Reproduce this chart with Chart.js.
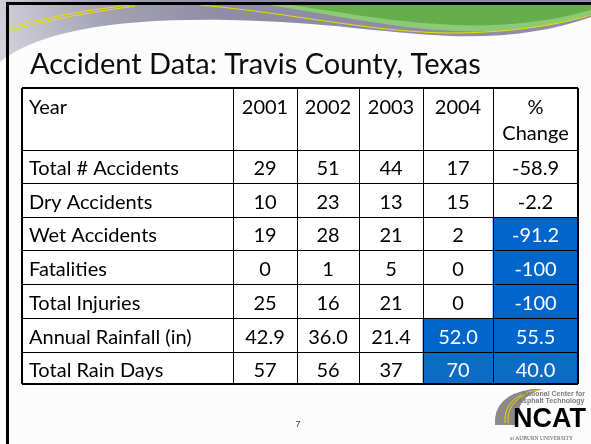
<!DOCTYPE html>
<html>
<head>
<title>Accident Data: Travis County, Texas</title>
<script src="https://cdn.jsdelivr.net/npm/chart.js@4.4.1/dist/chart.umd.min.js"></script>
<style>
body{
	margin: 0;
	background-color: white;
}
</style>
</head>
<body>

<canvas id="accidents" width="591" height="444"></canvas>

<script type="text/javascript">

var title = 'Accident Data: Travis County, Texas';
var corner = 'Year';
var years = ['2001', '2002', '2003', '2004'];
var changeLabel = '%\nChange';
var rowNames = ['Total # Accidents', 'Dry Accidents', 'Wet Accidents', 'Fatalities',
                'Total Injuries', 'Annual Rainfall (in)', 'Total Rain Days'];
var y2001 = [29, 10, 19, 0, 25, 42.9, 57];
var y2002 = [51, 23, 28, 1, 16, 36.0, 56];
var y2003 = [44, 13, 21, 5, 21, 21.4, 37];
var y2004 = [17, 15, 2, 0, 0, 52.0, 70];
var pctChange = [-58.9, -2.2, -91.2, -100, -100, 55.5, 40.0];
// [row, column] of the cells shaded blue (row 0 = header, column 0 = names)
var shaded = [[3, 5], [4, 5], [5, 5], [6, 4], [6, 5], [7, 4], [7, 5]];

// table grid, in table units (1 unit = 1 px)
var colEdges = [0, 211, 275, 337, 401, 471, 556];
var rowEdges = [0, 62, 95, 129, 162, 196, 230, 264, 296];

function fmt(v, r){
	if (r === 5) return v.toFixed(1);          // rainfall
	return String(v);
}
function fmtPct(v){
	return Math.abs(v) >= 100 ? String(v) : v.toFixed(1);
}
function isShaded(r, c){
	return shaded.some(function(s){ return s[0] === r && s[1] === c; });
}

// text of every cell, row by row
var cellText = [[corner].concat(years, [changeLabel])];
rowNames.forEach(function(name, i){
	cellText.push([name, fmt(y2001[i], i), fmt(y2002[i], i), fmt(y2003[i], i),
	               fmt(y2004[i], i), fmtPct(pctChange[i])]);
});

var datasets = cellText.map(function(texts, r){
	var mid = (rowEdges[r] + rowEdges[r + 1]) / 2;
	return {
		texts: texts,
		stack: 'cells',
		barThickness: rowEdges[r + 1] - rowEdges[r],
		borderWidth: 0,
		backgroundColor: texts.map(function(t, c){
			if (!isShaded(r, c)) return '#ffffff';
			return r === 7 ? '#0a6cc2' : '#0066cc';
		}),
		data: texts.map(function(t, c){
			return { x: [colEdges[c], colEdges[c + 1]], y: mid };
		})
	};
});

var slideBack = {
	id: 'slideBack',
	beforeDraw: function(chart){
		var ctx = chart.ctx;
		ctx.save();
		ctx.fillStyle = '#fcfcfc';
		ctx.fillRect(0, 0, 591, 444);

		// grey band across the top
		var g = ctx.createLinearGradient(0, 60, 220, 0);
		g.addColorStop(0, '#d4d4dc');
		g.addColorStop(0.5, '#a3a2b4');
		g.addColorStop(1, '#8f8ca4');
		ctx.fillStyle = g;
		ctx.beginPath();
		ctx.moveTo(0, 0);
		ctx.lineTo(591, 0);
		ctx.lineTo(591, 17);
		ctx.bezierCurveTo(550, 32, 500, 38, 450, 36);
		ctx.bezierCurveTo(380, 33, 330, 22, 230, 20);
		ctx.bezierCurveTo(120, 18, 40, 30, 0, 62);
		ctx.closePath();
		ctx.fill();

		// green wave
		ctx.fillStyle = '#8ccb76';
		ctx.beginPath();
		ctx.moveTo(262, 4);
		ctx.lineTo(591, 4);
		ctx.lineTo(591, 14);
		ctx.bezierCurveTo(550, 28, 500, 33, 455, 31);
		ctx.bezierCurveTo(390, 28, 330, 14, 262, 4);
		ctx.closePath();
		ctx.fill();
		ctx.fillStyle = '#66ad4c';
		ctx.beginPath();
		ctx.moveTo(285, 4);
		ctx.lineTo(591, 4);
		ctx.lineTo(591, 10);
		ctx.bezierCurveTo(550, 22, 500, 27, 455, 25);
		ctx.bezierCurveTo(390, 22, 340, 12, 285, 4);
		ctx.closePath();
		ctx.fill();

		// yellow lines
		ctx.strokeStyle = '#e8e000';
		ctx.lineWidth = 1;
		ctx.beginPath();
		ctx.moveTo(8, 28);
		ctx.quadraticCurveTo(60, 13, 130, 5);
		ctx.moveTo(8, 31);
		ctx.quadraticCurveTo(60, 16, 135, 6);
		ctx.stroke();
		ctx.beginPath();
		ctx.moveTo(200, 5);
		ctx.bezierCurveTo(300, 14, 380, 34, 460, 33);
		ctx.bezierCurveTo(510, 32, 555, 26, 591, 15);
		ctx.stroke();

		// slide frame
		ctx.fillStyle = '#000000';
		ctx.fillRect(6, 2, 585, 3);
		ctx.fillRect(6, 2, 3, 442);

		// title
		ctx.fillStyle = '#0d0d0d';
		ctx.font = '29px Lato';
		ctx.textAlign = 'left';
		ctx.textBaseline = 'alphabetic';
		ctx.fillText(title, 30, 74);

		// page number
		ctx.fillStyle = '#333333';
		ctx.font = '9px "Liberation Sans"';
		ctx.textAlign = 'center';
		ctx.fillText('7', 298, 427);

		// NCAT logo
		ctx.fillStyle = '#8a8a8a';
		ctx.beginPath();
		ctx.moveTo(495, 425);
		ctx.quadraticCurveTo(493, 395, 532, 389);
		ctx.lineTo(542, 389);
		ctx.quadraticCurveTo(514, 398, 518, 425);
		ctx.closePath();
		ctx.fill();
		ctx.strokeStyle = '#f0d000';
		ctx.lineWidth = 1;
		ctx.beginPath();
		ctx.moveTo(505, 423);
		ctx.quadraticCurveTo(503, 397, 536, 390);
		ctx.moveTo(508, 423);
		ctx.quadraticCurveTo(506, 398, 538, 390);
		ctx.stroke();
		ctx.fillStyle = '#7a7a7a';
		ctx.font = 'bold 7px "Liberation Sans"';
		ctx.textAlign = 'left';
		ctx.fillText('National Center for', 522, 396);
		ctx.fillText('Asphalt Technology', 518, 403);
		ctx.fillStyle = '#000000';
		ctx.font = 'bold 27px "Liberation Sans"';
		ctx.fillText('NCAT', 513, 427);
		ctx.fillStyle = '#555555';
		ctx.font = '5.5px "Liberation Serif"';
		ctx.fillText('at AUBURN UNIVERSITY', 510, 440);
		ctx.restore();
	}
};

var cellLabels = {
	id: 'cellLabels',
	afterDatasetsDraw: function(chart){
		var ctx = chart.ctx;
		ctx.save();
		ctx.font = '20px Lato';
		ctx.textBaseline = 'alphabetic';
		chart.data.datasets.forEach(function(ds, r){
			chart.getDatasetMeta(r).data.forEach(function(bar, c){
				var p = bar.getProps(['x', 'y', 'base', 'height'], true);
				var left = Math.min(p.x, p.base), right = Math.max(p.x, p.base);
				var top = p.y - p.height / 2;
				var x;
				if (c === 0) { ctx.textAlign = 'left'; x = left + 6; }
				else { ctx.textAlign = 'center'; x = (left + right) / 2; }
				ctx.fillStyle = isShaded(r, c) ? '#ffffff' : '#000000';
				var lines = ds.texts[c].split('\n');
				if (r === 0) {
					lines.forEach(function(t, i){ ctx.fillText(t, x, top + 26 + i * 26); });
				} else {
					ctx.fillText(lines[0], x, p.y + 8.5);
				}
			});
		});
		ctx.restore();
	}
};

function gridWidth(edges){
	return function(c){
		var v = c.tick ? c.tick.value : null;
		return (v === edges[0] || v === edges[edges.length - 1]) ? 2 : 1;
	};
}

new Chart(document.getElementById('accidents'), {
	type: 'bar',
	data: { datasets: datasets },
	options: {
		responsive: false,
		animation: false,
		indexAxis: 'y',
		layout: { padding: { left: 22, top: 88, right: 13, bottom: 60 } },
		plugins: { legend: { display: false }, tooltip: { enabled: false } },
		scales: {
			x: {
				type: 'linear', min: colEdges[0], max: colEdges[colEdges.length - 1],
				stacked: false, offset: false,
				afterBuildTicks: function(axis){ axis.ticks = colEdges.map(function(v){ return { value: v }; }); },
				ticks: { display: false },
				border: { display: false },
				grid: { z: 1, offset: false, color: '#000000', lineWidth: gridWidth(colEdges), drawTicks: false }
			},
			y: {
				type: 'linear', min: rowEdges[0], max: rowEdges[rowEdges.length - 1],
				reverse: true, stacked: true, offset: false,
				afterBuildTicks: function(axis){ axis.ticks = rowEdges.map(function(v){ return { value: v }; }); },
				ticks: { display: false },
				border: { display: false },
				grid: { z: 1, offset: false, color: '#000000', lineWidth: gridWidth(rowEdges), drawTicks: false }
			}
		}
	},
	plugins: [slideBack, cellLabels]
});

</script>
</body>
</html>
